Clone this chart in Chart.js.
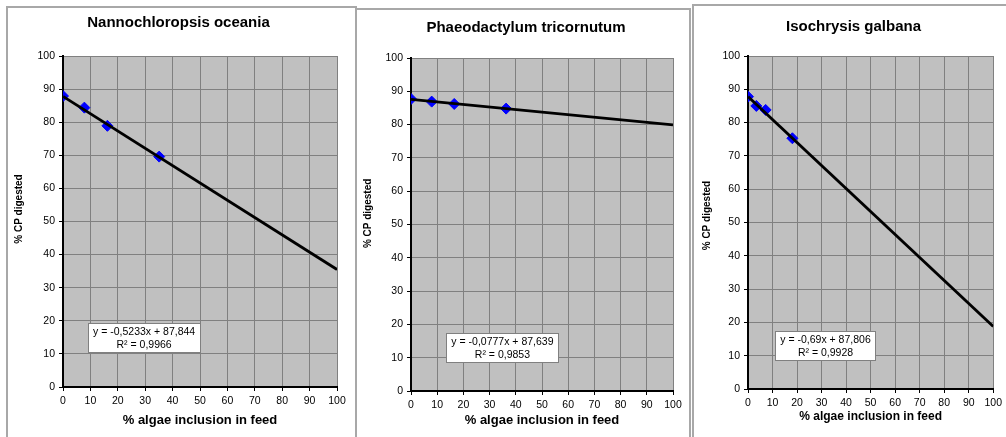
<!DOCTYPE html>
<html>
<head>
<meta charset="utf-8">
<title>% CP digested vs % algae inclusion</title>
<script src="https://cdn.jsdelivr.net/npm/chart.js@4.4.0/dist/chart.umd.min.js"></script>
<style>
html,body{margin:0;padding:0;width:1006px;height:437px;overflow:hidden;background:#fff;}
.frame{position:absolute;box-sizing:border-box;border:2px solid #a8a8a8;background:#fff;}
canvas{position:absolute;top:0;}
</style>
</head>
<body>

<div class="frame" style="left:6px;top:6px;width:351px;height:500px"></div>
<div class="frame" style="left:355px;top:8px;width:336px;height:500px"></div>
<div class="frame" style="left:692px;top:4px;width:400px;height:500px"></div>

<canvas id="c1" width="356" height="437" style="left:0px"></canvas>
<canvas id="c2" width="335" height="437" style="left:356px"></canvas>
<canvas id="c3" width="313" height="437" style="left:693px"></canvas>

<script>
/* ===========================
   DATA
=========================== */

// measured points (x = % algae inclusion, y = % CP digested)
const nannoX = [0, 7.8, 16.2, 35.1];
const nannoY = [87.9, 84.4, 78.9, 69.6];

const phaeoX = [0, 7.9, 16.5, 36.3];
const phaeoY = [87.7, 86.9, 86.2, 84.8];

const isoX = [0, 3.4, 7.2, 18.1];
const isoY = [87.8, 85.0, 83.8, 75.3];

// linear trendlines, read at both ends of the axis
const trendX = [0, 100];
const nannoTrendY = [87.8, 35.5];
const phaeoTrendY = [87.6, 79.9];
const isoTrendY = [87.8, 18.8];

// trendline labels
const nannoEq = ["y = -0,5233x + 87,844", "R² = 0,9966"];
const phaeoEq = ["y = -0,0777x + 87,639", "R² = 0,9853"];
const isoEq = ["y = -0,69x + 87,806", "R² = 0,9928"];

const titles = [
    "Nannochloropsis oceania",
    "Phaeodactylum tricornutum",
    "Isochrysis galbana"
];

const xTitle = "% algae inclusion in feed";
const yTitle = "% CP digested";

/* ===========================
   PANEL LAYOUT
=========================== */

const panels = [
    {
        id:"c1", title:titles[0], xs:nannoX, ys:nannoY, trend:nannoTrendY, eq:nannoEq,
        eqAt:[29.6, 15.0],
        pad:{left:20, right:19, top:0, bottom:0},
        yWidth:43, xHeight:50,
        titlePad:{top:14, bottom:24},
        yTitlePad:-6.5, yShift:9,
        xTitleSize:13, xTitlePad:9.2
    },
    {
        id:"c2", title:titles[1], xs:phaeoX, ys:phaeoY, trend:phaeoTrendY, eq:phaeoEq,
        eqAt:[34.9, 13.1],
        pad:{left:23, right:18, top:0, bottom:0},
        yWidth:32, xHeight:46,
        titlePad:{top:19, bottom:21},
        yTitlePad:-17, yShift:8,
        xTitleSize:13, xTitlePad:9.2
    },
    {
        id:"c3", title:titles[2], xs:isoX, ys:isoY, trend:isoTrendY, eq:isoEq,
        eqAt:[31.6, 13.2],
        pad:{left:19, right:11, top:0, bottom:0},
        yWidth:36, xHeight:48,
        titlePad:{top:18, bottom:20},
        yTitlePad:-11, yShift:5,
        xTitleSize:12, xTitlePad:12.8
    }
];

const FONT = "'Liberation Sans', Arial, sans-serif";

Chart.defaults.font.family = FONT;
Chart.defaults.color = "#000";

/* ===========================
   PLUGINS
=========================== */

// silver plot area
const plotBg = {
    id:"plotBg",
    beforeDraw(chart){
        const {ctx, chartArea:a} = chart;
        ctx.save();
        ctx.fillStyle = "#c0c0c0";
        ctx.fillRect(a.left, a.top, a.right - a.left, a.bottom - a.top);
        ctx.restore();
    }
};

// trendline equation box
const eqLabel = {
    id:"eqLabel",
    afterDatasetsDraw(chart, args, opts){
        const {ctx, scales} = chart;
        const cx = scales.x.getPixelForValue(opts.at[0]);
        const cy = scales.y.getPixelForValue(opts.at[1]);
        ctx.save();
        ctx.font = "10.5px " + FONT;
        const w = Math.round(Math.max(...opts.lines.map(t => ctx.measureText(t).width)) + 10);
        const h = 29;
        const left = Math.round(cx - w / 2) + 0.5;
        const top = Math.round(cy - h / 2) + 0.5;
        ctx.fillStyle = "#ffffff";
        ctx.fillRect(left, top, w, h);
        ctx.strokeStyle = "#808080";
        ctx.lineWidth = 1;
        ctx.strokeRect(left, top, w, h);
        ctx.fillStyle = "#000";
        ctx.textAlign = "center";
        ctx.textBaseline = "middle";
        ctx.fillText(opts.lines[0], cx, top + 8.5);
        ctx.fillText(opts.lines[1], cx, top + 21.5);
        ctx.restore();
    }
};

/* ===========================
   BUILD CHARTS
=========================== */

function gridColor(c){
    return c.tick && c.tick.value === 0 ? "rgba(0,0,0,0)" : "#808080";
}

function axis(p, horizontal){

    return {
        type:"linear",
        min:0,
        max:100,
        ticks:{
            stepSize:10,
            color:"#000",
            font:{size:10.5},
            padding:4,
            maxRotation:0,
            autoSkip:false
        },
        grid:{
            color:gridColor,
            lineWidth:1,
            tickLength:4,
            tickColor:"#000",
            drawTicks:true
        },
        border:{
            display:true,
            color:"#000",
            width:2
        },
        title: horizontal ? {
            display:true,
            text:xTitle,
            color:"#000",
            font:{size:p.xTitleSize, weight:"bold"},
            padding:{top:0, bottom:p.xTitlePad}
        } : {
            display:true,
            text:"\u00a0".repeat(p.yShift) + yTitle,
            color:"#000",
            font:{size:10, weight:"bold"},
            padding:{top:p.yTitlePad, bottom:0}
        },
        afterFit(s){
            if(horizontal) s.height = p.xHeight;
            else s.width = p.yWidth;
        }
    };

}

function drawPanel(p){

    const points = p.xs.map((x, i) => ({x, y:p.ys[i]}));

    const trend = trendX.map((x, i) => ({x, y:p.trend[i]}));

    new Chart(
        document.getElementById(p.id),
        {
            type:"scatter",
            data:{
                datasets:[
                    {
                        label:"Linear",
                        data:trend,
                        showLine:true,
                        borderColor:"#000",
                        borderWidth:2.75,
                        pointRadius:0,
                        order:0
                    },
                    {
                        label:"% CP digested",
                        data:points,
                        pointStyle:"rectRot",
                        pointRadius:5.5,
                        backgroundColor:"#0000ff",
                        borderColor:"#0000ff",
                        borderWidth:1,
                        order:1
                    }
                ]
            },
            options:{
                responsive:false,
                animation:false,
                events:[],
                layout:{padding:p.pad},
                plugins:{
                    legend:{display:false},
                    tooltip:{enabled:false},
                    title:{
                        display:true,
                        text:p.title,
                        color:"#000",
                        font:{size:15, weight:"bold"},
                        padding:p.titlePad
                    },
                    eqLabel:{at:p.eqAt, lines:p.eq}
                },
                scales:{
                    x:axis(p, true),
                    y:axis(p, false)
                }
            },
            plugins:[plotBg, eqLabel]
        }
    );

}

panels.forEach(drawPanel);
</script>
</body>
</html>
